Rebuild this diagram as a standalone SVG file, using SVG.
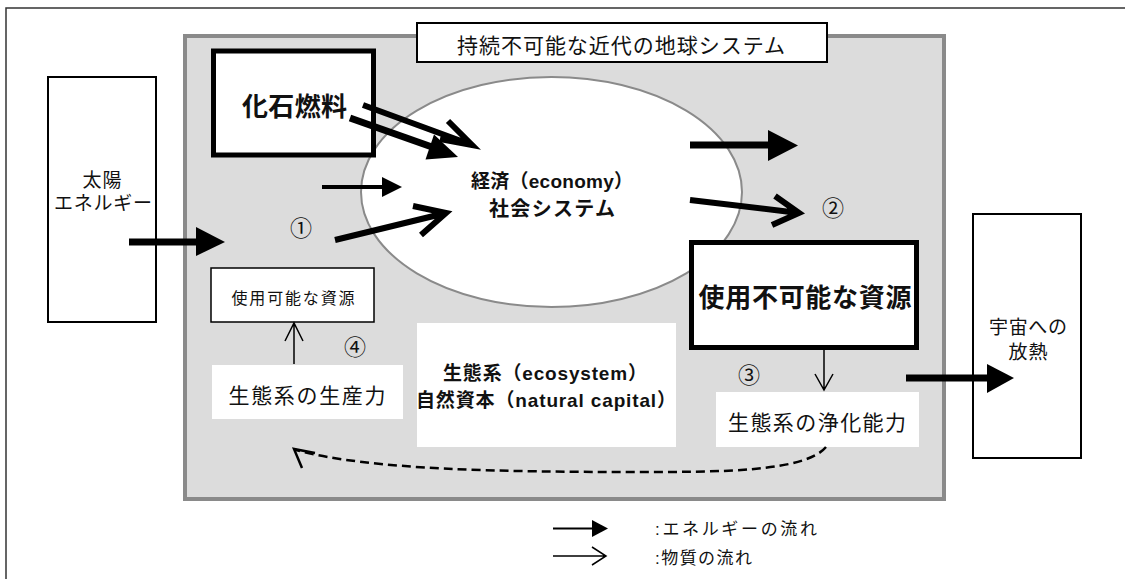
<svg xmlns="http://www.w3.org/2000/svg" width="1125" height="579" viewBox="0 0 1125 579">
<style>
text{font-family:"Liberation Sans","Noto Sans CJK JP",sans-serif;fill:#111}
.c{text-anchor:middle}
.b{font-weight:bold}
.box{fill:#fff;stroke:#000;stroke-width:2}
.thick{fill:#fff;stroke:#000;stroke-width:5}
.wbox{fill:#fff;stroke:none}
.fill{fill:#000;stroke:none}
.open{fill:none;stroke:#000;stroke-linecap:butt;stroke-linejoin:miter}
.num{font-size:22px;text-anchor:middle}
</style>
<rect x="6" y="8" width="1140" height="600" fill="#fff" stroke="#333" stroke-width="1.5"/>
<g id="earth-system">
<rect x="185" y="36" width="759" height="463" fill="#dcdcdc" stroke="#8a8a8a" stroke-width="4"/>
</g>
<g id="title">
<rect class="box" x="417" y="23" width="410" height="39"/>
<text class="c" x="621" y="53" font-size="21" textLength="328" lengthAdjust="spacing">持続不可能な近代の地球システム</text>
</g>
<g id="economy">
<ellipse cx="551.5" cy="192" rx="190.5" ry="115" fill="#fff" stroke="#8a8a8a" stroke-width="2"/>
<text class="c b" x="552" y="188" font-size="19" textLength="162" lengthAdjust="spacing">経済（economy）</text>
<text class="c b" x="552" y="216" font-size="20" textLength="126" lengthAdjust="spacing">社会システム</text>
</g>
<g id="fossil-fuel">
<rect class="thick" x="213.5" y="51" width="160" height="104"/>
<text class="c b" x="294.5" y="116" font-size="26" textLength="105" lengthAdjust="spacing">化石燃料</text>
</g>
<g id="sun">
<rect class="box" x="48" y="77" width="108" height="245"/>
<text class="c" x="102" y="187" font-size="19" textLength="39" lengthAdjust="spacing">太陽</text>
<text class="c" x="103" y="210" font-size="19" textLength="98" lengthAdjust="spacing">エネルギー</text>
</g>
<g id="space">
<rect class="box" x="973" y="214" width="108" height="244"/>
<text class="c" x="1028" y="334" font-size="19" textLength="78" lengthAdjust="spacing">宇宙への</text>
<text class="c" x="1028" y="359" font-size="19" textLength="39" lengthAdjust="spacing">放熱</text>
</g>
<g id="unusable">
<rect class="thick" x="691.5" y="242.5" width="225" height="105"/>
<text class="c b" x="805" y="307" font-size="26" textLength="213" lengthAdjust="spacing">使用不可能な資源</text>
</g>
<g id="usable">
<rect fill="#fff" stroke="#000" stroke-width="1.5" x="211" y="268" width="163" height="54"/>
<text class="c" x="293" y="304" font-size="16" textLength="123" lengthAdjust="spacing">使用可能な資源</text>
</g>
<g id="productivity">
<rect class="wbox" x="212" y="365" width="191" height="54"/>
<text class="c" x="307" y="403" font-size="21" textLength="157" lengthAdjust="spacing">生態系の生産力</text>
</g>
<g id="ecosystem">
<rect class="wbox" x="417" y="323" width="259" height="124"/>
<text class="c b" x="545" y="380" font-size="19" textLength="204" lengthAdjust="spacing">生態系（ecosystem）</text>
<text class="c b" x="546" y="407" font-size="19" textLength="260" lengthAdjust="spacing">自然資本（natural capital）</text>
</g>
<g id="purification">
<rect class="wbox" x="716" y="392" width="203" height="55"/>
<text class="c" x="817" y="430" font-size="21" textLength="178" lengthAdjust="spacing">生態系の浄化能力</text>
</g>
<g id="labels">
<text class="num" x="301" y="236">①</text>
<text class="num" x="833" y="216">②</text>
<text class="num" x="749" y="383">③</text>
<text class="num" x="355" y="355">④</text>
</g>
<g id="connectors">
<rect class="fill" x="129" y="238.5" width="68" height="7"/>
<polygon class="fill" points="196,227 225,242 196,256"/>
<rect class="fill" x="322" y="185" width="61" height="4"/>
<polygon class="fill" points="382,177 402,187 382,197"/>
<path class="open" stroke-width="6" d="M335,240 L446,213 M413,206 L446,213 L421,235"/>
<path class="open" stroke-width="6" d="M363,105 L472,145 M448,121 L472,145 L440,139"/>
<path class="open" stroke-width="7" d="M350,118 L432,147"/>
<polygon class="fill" points="434,134.5 458,157 425.5,159.5"/>
<rect class="fill" x="690" y="141.5" width="79" height="7"/>
<polygon class="fill" points="768,130 798,145.5 768,161"/>
<path class="open" stroke-width="6" d="M690,200 L799,213 M775,196 L799,213 L772,225"/>
<path class="open" stroke-width="1.5" d="M824,350 L824,390 M815,374 L824,390 L833,374"/>
<path class="open" stroke-width="1.5" d="M294,364 L294,323 M285,341 L294,323 L303,341"/>
<rect class="fill" x="906" y="374.5" width="82" height="7"/>
<polygon class="fill" points="987,364 1014,378 987,393"/>
<path class="open" stroke-width="2.5" stroke-dasharray="9,5" d="M826,447 C805,472 720,472 640,472 C500,472 370,470 296,450"/>
<path class="open" stroke-width="2.5" d="M315,453 L294,449 L302,468"/>
</g>
<g id="legend">
<rect class="fill" x="553" y="527.5" width="40" height="2"/>
<polygon class="fill" points="592,520 608,528.5 592,537"/>
<path class="open" stroke-width="1.5" d="M553,556 L606,556 M592,547 L606,556 L592,565"/>
<text x="655" y="534.5" font-size="17" textLength="162" lengthAdjust="spacing">:エネルギーの流れ</text>
<text x="655" y="563.5" font-size="17" textLength="97" lengthAdjust="spacing">:物質の流れ</text>
</g>
</svg>
